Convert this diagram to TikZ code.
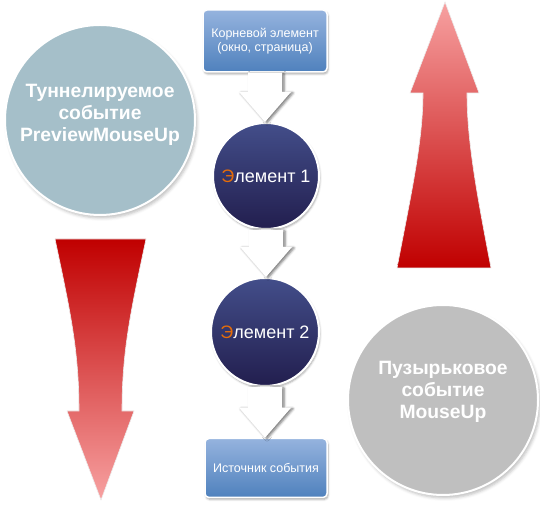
\documentclass[tikz,border=0pt]{standalone}
\usepackage{fontspec}
\setmainfont{Liberation Sans}
\usetikzlibrary{shadows,shadows.blur,calc}

\definecolor{boxlight}{HTML}{95B3DE}
\definecolor{boxdark}{HTML}{4F81BD}
\definecolor{navytop}{HTML}{434E8A}
\definecolor{navybot}{HTML}{221E4E}
\definecolor{letterorange}{HTML}{E46C0A}
\definecolor{tunnelfill}{HTML}{A5BFC9}
\definecolor{bubblefill}{HTML}{BFBFBF}
\definecolor{darkred}{HTML}{C00000}
\definecolor{lightred}{HTML}{F7A1A1}

% wide white arrow from one node anchor to another
\newcommand{\blockarrow}[2]{%
  \path[whitearrow] let \p1=(#1), \p2=(#2) in
      (\x1-17pt,\y1) -- (\x1+17pt,\y1) -- (\x1+17pt,\y2+30pt)
      -- (\x1+26pt,\y2+30pt) -- (\x1,\y2) -- (\x1-26pt,\y2+30pt)
      -- (\x1-17pt,\y2+30pt) -- cycle;}

\begin{document}
\begin{tikzpicture}[x=1pt,y=1pt,
    treebox/.style={rectangle, rounded corners=4pt, draw=white, line width=1.5pt,
        top color=boxlight, bottom color=boxdark, text=white, align=center,
        font=\fontsize{12.5}{14.5}\selectfont,
        blur shadow={shadow xshift=1pt, shadow yshift=-2pt, shadow blur radius=2pt, shadow opacity=35}},
    element/.style={circle, draw=white, line width=2pt, inner sep=0pt,
        top color=navytop, bottom color=navybot, text=white,
        font=\fontsize{18}{21}\selectfont,
        blur shadow={shadow xshift=1pt, shadow yshift=-2pt, shadow blur radius=2pt, shadow opacity=35}},
    bigcircle/.style={circle, draw=white, line width=2pt, inner sep=0pt,
        blur shadow={shadow xshift=2pt, shadow yshift=-3pt, shadow blur radius=3pt, shadow opacity=25}},
    bigtext/.style={text=white, align=center,
        font=\bfseries\fontsize{19.3}{22}\selectfont},
    whitearrow/.style={fill=white,
        blur shadow={shadow xshift=2pt, shadow yshift=-1pt, shadow blur radius=2.5pt, shadow opacity=55}},
    redarrow/.style={draw=white!85!gray, line width=0.6pt}
  ]
  \useasboundingbox (0,0) rectangle (540,510);

  % Tree of elements
  \node[treebox, minimum width=124pt, minimum height=62pt] (root) at (265,469)
      {Корневой элемент\\(окно, страница)};
  \node[element, minimum size=106pt] (el1) at (266,334)
      {{\color{letterorange}Э}лемент 1};
  \node[element, minimum size=108pt] (el2) at (265,178)
      {{\color{letterorange}Э}лемент 2};
  \node[treebox, minimum width=122pt, minimum height=59pt] (src) at (266,42)
      {Источник события};

  % Arrows between the elements
  \blockarrow{root.south}{el1.north}
  \blockarrow{el1.south}{el2.north}
  \blockarrow{el2.south}{src.north}

  % Tunnelling event (left)
  \node[bigcircle, fill=tunnelfill, minimum size=190pt] (tunnel) at (100,390) {};
  \node[bigtext] (tunneltext) at ([yshift=5pt]tunnel.center)
      {Туннелируемое\\событие\\PreviewMouseUp};

  % Bubbling event (right)
  \node[bigcircle, fill=bubblefill, minimum size=190pt] (bubble) at (443,110) {};
  \node[bigtext] (bubbletext) at ([yshift=8pt]bubble.center)
      {Пузырьковое\\событие\\MouseUp};

  % Red arrow down
  \shadedraw[redarrow, top color=darkred, bottom color=lightred]
      (55,271) .. controls (70,200) and (79,160) .. (79,99)
      -- (67,99) -- (101,10) -- (134,99) -- (122,99)
      .. controls (122,160) and (131,200) .. (146,271) -- cycle;

  % Red arrow up
  \shadedraw[redarrow, top color=lightred, bottom color=darkred]
      (397,242) .. controls (412,320) and (423,370) .. (423,417)
      -- (410,417) -- (445,508) -- (479,417) -- (467,417)
      .. controls (467,370) and (476,320) .. (491,242) -- cycle;
\end{tikzpicture}
\end{document}
